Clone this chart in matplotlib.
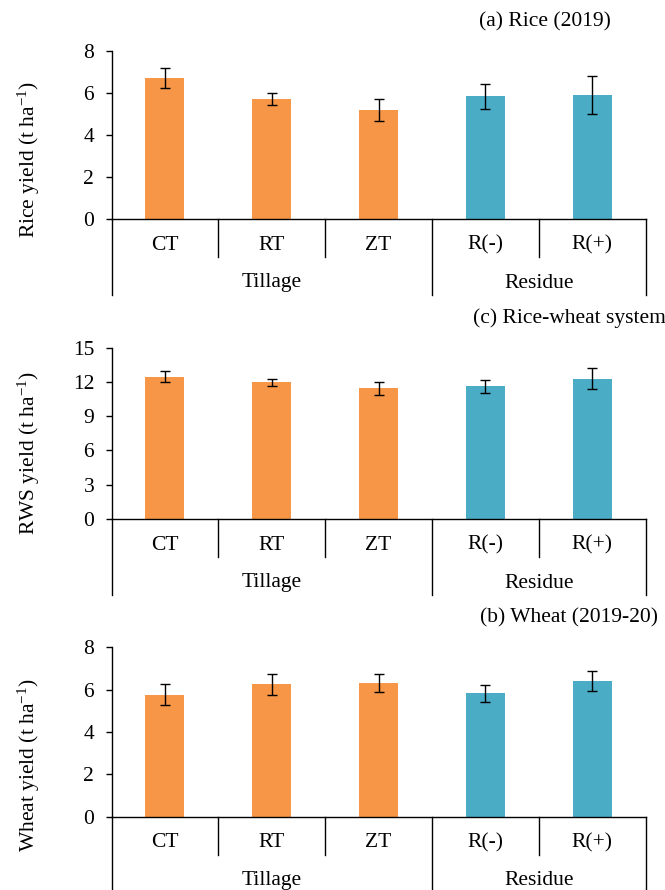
import numpy as np
import matplotlib
matplotlib.use("Agg")
import matplotlib.pyplot as plt

plt.rcParams['font.family'] = ['Liberation Serif', 'DejaVu Serif']
plt.rcParams['mathtext.default'] = 'regular'
plt.rcParams['font.size'] = 15.5

categories = ['CT', 'RT', 'ZT', 'R(-)', 'R(+)']
groups = ['Tillage', 'Residue']

rice = [6.70, 5.71, 5.17, 5.83, 5.89]
rice_err = [0.48, 0.30, 0.53, 0.60, 0.92]

rws = [12.45, 11.97, 11.45, 11.62, 12.27]
rws_err = [0.48, 0.30, 0.55, 0.58, 0.92]

wheat = [5.77, 6.25, 6.32, 5.82, 6.41]
wheat_err = [0.50, 0.48, 0.42, 0.41, 0.46]

orange = '#F79646'
teal = '#4BACC6'
colors = [orange, orange, orange, teal, teal]

W, H = 665, 890
fs = 15.5
fig = plt.figure(figsize=(W / 100, H / 100), dpi=100)

# (values, errors, ylim top, tick step, ylabel, title, axis top px, axis bottom px,
#  title pos px, ylabel centre px)
panels = [
    (rice, rice_err, 8, 2, 'Rice yield (t ha$^{-1}$)', '(a) Rice (2019)',
     50.7, 219, (611, 22), 160),
    (rws, rws_err, 15, 3, 'RWS yield (t ha$^{-1}$)', '(c) Rice-wheat system',
     347.7, 519, (666, 318), 453),
    (wheat, wheat_err, 8, 2, 'Wheat yield (t ha$^{-1}$)', '(b) Wheat (2019-20)',
     647.3, 816.7, (658, 618), 765),
]

left_px, right_px = 111.5, 645.5

for vals, errs, ytop, step, ylab, title, top_px, bot_px, tpos, ylab_y in panels:
    ax = fig.add_axes([left_px / W, 1 - bot_px / H,
                       (right_px - left_px) / W, (bot_px - top_px) / H])
    x = np.arange(len(categories))
    ax.bar(x, vals, width=0.365, color=colors, zorder=2)
    ax.errorbar(x, vals, yerr=errs, fmt='none', ecolor='black',
                elinewidth=1, capsize=3.6, capthick=1, zorder=3)
    ax.set_xlim(-0.5, len(categories) - 0.5)
    ax.set_ylim(0, ytop)
    ax.set_yticks(np.arange(0, ytop + 0.1, step))
    ax.set_xticks([])
    for s in ['top', 'right']:
        ax.spines[s].set_visible(False)
    ax.spines['left'].set_linewidth(1)
    ax.spines['bottom'].set_linewidth(1)
    ax.tick_params(axis='y', length=4.5, width=1, pad=8, labelsize=fs)

    # two-level category axis below the bars
    ax_h = bot_px - top_px
    trans = ax.get_xaxis_transform()
    short = -38 / ax_h
    long_ = -76 / ax_h
    for xs in [0.5, 1.5, 3.5]:
        ax.plot([xs, xs], [0, short], color='black', lw=1,
                transform=trans, clip_on=False)
    for xs in [-0.5, 2.5, 4.5]:
        ax.plot([xs, xs], [0, long_], color='black', lw=1,
                transform=trans, clip_on=False)
    for xi, c in zip(x, categories):
        ax.text(xi, -26 / ax_h, c, transform=trans, ha='center', va='center',
                fontsize=fs)
    ax.text(1, -64 / ax_h, groups[0], transform=trans, ha='center',
            va='center', fontsize=fs)
    ax.text(3.5, -64 / ax_h, groups[1], transform=trans, ha='center',
            va='center', fontsize=fs)

    fig.text(tpos[0] / W, 1 - tpos[1] / H, title, ha='right', va='center',
             fontsize=fs)
    fig.text(29 / W, 1 - ylab_y / H, ylab, rotation=90, ha='center',
             va='center', fontsize=fs)

fig.savefig('out.png', dpi=100)
